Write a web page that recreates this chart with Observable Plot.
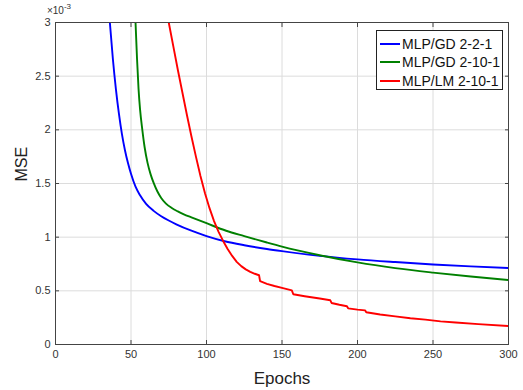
<!DOCTYPE html>
<html>
<head>
<meta charset="utf-8">
<script src="https://cdn.jsdelivr.net/npm/d3@7"></script>
<script src="https://cdn.jsdelivr.net/npm/@observablehq/plot@0.6"></script>
<style>
  html, body { margin: 0; padding: 0; background: #fff; }
  #wrap { position: relative; width: 523px; height: 390px; font-family: "Liberation Sans", Arial, sans-serif; }
  #legend { position: absolute; left: 376px; top: 30px; width: 125px; height: 58px; border: 1px solid #222; background: #fff; box-sizing: content-box; }
  .row { position: absolute; left: 0; height: 18px; display: flex; align-items: center; font-size: 14px; color: #111; }
  .sw { width: 20px; height: 2px; margin-left: 3px; margin-right: 2px; }
</style>
</head>
<body>
<div id="wrap"></div>
<script>
// ---- data (MSE in units of 1e-3) ----
const seriesNames = ["MLP/GD 2-2-1", "MLP/GD 2-10-1", "MLP/LM 2-10-1"];
const seriesColors = ["#0000ff", "#008000", "#ff0000"];

const epochsGD221 = [36, 38, 40, 42, 44, 46, 48, 50, 53, 56, 60, 65, 70, 75, 80, 90, 100, 112, 125, 140, 150, 175, 200, 225, 250, 275, 300];
const mseGD221    = [3.0, 2.66, 2.38, 2.15, 1.96, 1.81, 1.69, 1.59, 1.47, 1.39, 1.31, 1.245, 1.195, 1.155, 1.12, 1.06, 1.01, 0.962, 0.925, 0.89, 0.87, 0.826, 0.793, 0.768, 0.746, 0.728, 0.712];

const epochsGD2101 = [53, 54, 55, 56, 57.5, 59, 61, 63, 65, 67.5, 70, 73, 77, 81, 85, 90, 100, 113, 125, 140, 150, 175, 200, 225, 250, 275, 300];
const mseGD2101    = [3.0, 2.66, 2.38, 2.19, 2.0, 1.84, 1.69, 1.585, 1.505, 1.425, 1.365, 1.315, 1.272, 1.24, 1.213, 1.185, 1.13, 1.06, 1.01, 0.95, 0.912, 0.832, 0.765, 0.712, 0.67, 0.633, 0.60];

const epochsLM2101 = [75, 78, 81, 84, 87, 90, 93, 96, 99, 102, 105, 108, 111, 114, 117, 120, 123, 126, 129, 132, 134.8, 135.5, 140, 145, 150, 156.5, 157.5, 165, 175, 182, 182.8, 188, 193, 193.8, 200, 205, 205.8, 215, 225, 235, 245, 255, 265, 280, 300];
const mseLM2101    = [3.0, 2.78, 2.56, 2.35, 2.14, 1.94, 1.75, 1.57, 1.41, 1.27, 1.15, 1.05, 0.965, 0.89, 0.825, 0.77, 0.73, 0.70, 0.677, 0.659, 0.645, 0.59, 0.565, 0.545, 0.528, 0.505, 0.468, 0.45, 0.428, 0.412, 0.387, 0.37, 0.356, 0.337, 0.325, 0.318, 0.30, 0.28, 0.262, 0.245, 0.232, 0.215, 0.205, 0.19, 0.172];

const xTicks = [0, 50, 100, 150, 200, 250, 300];
const xTickLabels = ["0", "50", "100", "150", "200", "250", "300"];
const yTicks = [0, 0.5, 1, 1.5, 2, 2.5, 3];
const yTickLabels = ["0", "0.5", "1", "1.5", "2", "2.5", "3"];
const xLabel = "Epochs";
const yLabel = "MSE";
const yExponent = "-3";

// ---- build tables ----
const mk = (xs, ys) => xs.map((x, i) => ({x, y: ys[i]}));
const series = [mk(epochsGD221, mseGD221), mk(epochsGD2101, mseGD2101), mk(epochsLM2101, mseLM2101)];

const font = "'Liberation Sans', Arial, sans-serif";
const axisColor = "#444";
const textColor = "#333";

const chart = Plot.plot({
  width: 523,
  height: 390,
  marginLeft: 55,
  marginRight: 15,
  marginTop: 22,
  marginBottom: 46,
  style: {fontFamily: font, background: "#fff", color: textColor, overflow: "visible"},
  x: {domain: [0, 300]},
  y: {domain: [0, 3]},
  marks: [
    Plot.gridX(xTicks, {stroke: "#dcdcdc", strokeOpacity: 1}),
    Plot.gridY(yTicks, {stroke: "#dcdcdc", strokeOpacity: 1}),
    Plot.axisX({ticks: xTicks, tickSize: -4, tickPadding: 10, fontSize: 11, fill: textColor, stroke: axisColor, label: null,
                tickFormat: d => xTickLabels[xTicks.indexOf(d)]}),
    Plot.axisX({anchor: "top", ticks: xTicks, tickSize: -4, stroke: axisColor, label: null, tickFormat: () => ""}),
    Plot.axisY({ticks: yTicks, tickSize: -4, tickPadding: 9, fontSize: 11, fill: textColor, stroke: axisColor, label: null,
                tickFormat: d => yTickLabels[yTicks.indexOf(d)]}),
    Plot.axisY({anchor: "right", ticks: yTicks, tickSize: -4, stroke: axisColor, label: null, tickFormat: () => ""}),
    ...series.map((s, i) => Plot.line(s, {x: "x", y: "y", stroke: seriesColors[i], strokeWidth: 1.9, curve: i < 2 ? "monotone-x" : "linear", clip: true})),
    Plot.frame({stroke: axisColor, strokeWidth: 1}),
    Plot.text([xLabel], {frameAnchor: "bottom", dy: 34, fontSize: 17, fill: "#222", lineAnchor: "middle"}),
    Plot.text([yLabel], {frameAnchor: "left", dx: -34, dy: -2, rotate: -90, fontSize: 16, fill: "#222", lineAnchor: "middle"})
  ]
});

const wrap = document.getElementById("wrap");
wrap.appendChild(chart);

// drop the empty label texts of the mirrored (top/right) axes
const svg = d3.select(chart);
svg.selectAll("text").filter(function () { return this.textContent === ""; }).remove();

// exponent label "×10^-3" above the top-left corner
const t = svg.append("text")
  .attr("x", 59).attr("y", 14)
  .attr("font-size", 10).attr("fill", textColor).attr("font-family", font);
t.append("tspan").text("\u00d710");
t.append("tspan").attr("dy", -5).attr("font-size", 8).text(yExponent);

// legend
const legend = document.createElement("div");
legend.id = "legend";
seriesNames.forEach((name, i) => {
  const row = document.createElement("div");
  row.className = "row";
  row.style.top = [4, 22, 41][i] + "px";
  const sw = document.createElement("div");
  sw.className = "sw";
  sw.style.background = seriesColors[i];
  const lab = document.createElement("span");
  lab.textContent = name;
  row.appendChild(sw);
  row.appendChild(lab);
  legend.appendChild(row);
});
wrap.appendChild(legend);
</script>
</body>
</html>
